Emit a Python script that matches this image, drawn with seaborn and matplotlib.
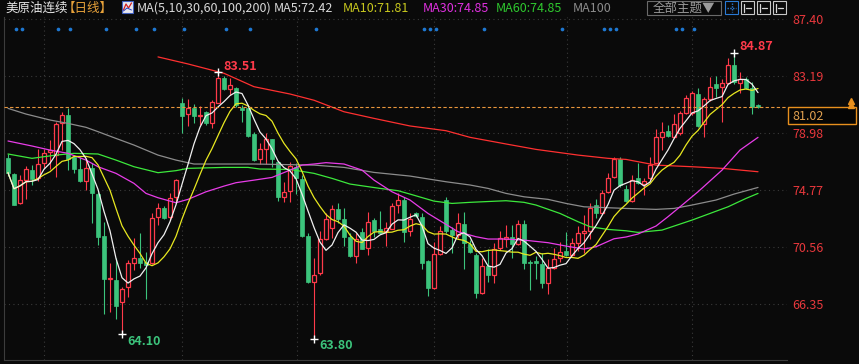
import numpy as np
import pandas as pd
import matplotlib
matplotlib.use("Agg")
import matplotlib.pyplot as plt
import seaborn as sns
from matplotlib.patches import Rectangle
from matplotlib.lines import Line2D
import matplotlib.transforms as mtransforms

# ---------------- data ----------------
OPEN = [77.10, 75.95, 73.78, 75.50, 76.24, 75.63, 76.74, 77.60, 77.35, 79.69,
        80.28, 77.18, 76.32, 75.46, 76.37, 74.47, 71.37, 68.20, 68.12, 66.52,
        67.62, 69.35, 69.72, 69.45, 69.40, 72.80, 73.41, 72.80, 74.22, 81.22,
        80.38, 80.80, 80.20, 80.55, 79.74, 81.22, 83.02, 82.23, 82.33, 80.85,
        80.80, 78.90, 77.03, 77.77, 78.51, 76.86, 74.27, 74.72, 76.49, 75.55,
        71.37, 68.00, 68.61, 71.12, 71.93, 73.34, 72.60, 71.32, 69.89, 71.66,
        70.46, 72.55, 71.86, 71.74, 71.91, 73.63, 74.03, 71.76, 73.05, 72.80,
        69.55, 67.50, 70.01, 74.03, 71.81, 71.44, 72.25, 70.78, 69.96, 67.13,
        69.15, 68.49, 70.46, 71.17, 71.27, 70.78, 72.25, 69.47, 69.55, 69.30,
        67.87, 68.98, 69.72, 70.28, 69.96, 70.88, 71.61, 71.76, 73.66, 73.04,
        74.64, 75.70, 77.03, 74.84, 73.98, 75.63, 75.19, 75.63, 76.79, 78.71,
        79.13, 78.71, 78.95, 80.48, 80.48, 81.86, 79.64, 81.47, 82.60, 82.35,
        82.70, 84.00, 82.70, 82.94, 82.28, 81.07]
HIGH = [77.43, 76.00, 75.87, 76.54, 76.61, 77.77, 77.77, 78.46, 79.82, 80.55,
        80.80, 77.35, 77.23, 77.10, 76.79, 74.64, 72.43, 69.35, 69.72, 67.62,
        69.60, 71.20, 71.56, 70.21, 73.04, 73.78, 73.60, 74.52, 75.55, 81.54,
        81.47, 81.12, 80.97, 80.63, 81.42, 83.51, 83.19, 83.02, 82.40, 81.05,
        80.90, 79.08, 78.26, 79.00, 78.55, 76.90, 75.38, 76.86, 76.74, 75.87,
        71.61, 69.72, 71.76, 73.04, 73.66, 73.78, 73.41, 71.56, 71.61, 71.93,
        73.12, 72.67, 73.22, 72.43, 73.78, 74.57, 74.27, 73.04, 73.15, 73.04,
        69.60, 70.95, 72.11, 74.27, 72.01, 73.09, 73.17, 71.07, 70.09, 69.72,
        70.38, 70.83, 71.76, 72.18, 72.18, 72.55, 72.55, 69.60, 69.89, 70.09,
        69.64, 70.46, 70.95, 71.69, 71.20, 72.11, 72.92, 73.78, 74.08, 74.77,
        76.05, 77.23, 77.23, 75.14, 75.87, 76.74, 75.63, 77.23, 79.25, 79.82,
        79.57, 80.38, 80.63, 81.79, 82.11, 82.28, 81.61, 83.14, 83.19, 82.94,
        84.50, 84.87, 83.50, 83.09, 82.77, 81.12]
LOW = [75.80, 73.65, 73.73, 74.08, 75.11, 75.46, 76.37, 76.30, 75.75, 77.72,
       76.24, 76.05, 75.38, 74.77, 72.30, 70.70, 65.65, 65.78, 65.28, 64.10,
       66.88, 68.86, 68.98, 66.71, 69.30, 72.18, 72.60, 72.55, 73.78, 78.95,
       79.50, 79.69, 79.57, 79.57, 79.32, 81.20, 82.16, 81.79, 80.92, 79.82,
       78.71, 76.93, 76.69, 76.69, 76.44, 73.98, 73.90, 73.90, 74.47, 71.30,
       67.92, 63.80, 68.49, 71.07, 71.20, 72.35, 70.63, 69.84, 69.35, 70.38,
       69.96, 71.32, 71.52, 70.63, 71.86, 73.10, 70.95, 71.37, 72.80, 68.90,
       66.93, 67.43, 69.94, 71.61, 70.09, 71.20, 68.90, 70.09, 66.76, 67.08,
       68.00, 67.92, 70.33, 70.58, 69.72, 70.70, 68.90, 67.38, 68.17, 67.50,
       67.08, 68.90, 69.47, 69.89, 69.89, 70.28, 70.09, 71.12, 72.67, 72.99,
       74.57, 75.63, 75.00, 73.90, 73.86, 75.21, 74.40, 75.50, 76.74, 77.72,
       78.71, 78.58, 78.83, 80.38, 80.31, 79.45, 78.66, 81.37, 81.61, 79.82,
       82.65, 82.60, 81.90, 82.20, 80.38, 80.85]
CLOSE = [76.05, 73.68, 75.50, 76.30, 75.55, 76.66, 77.52, 77.70, 79.64, 80.28,
         77.03, 76.32, 75.46, 76.42, 74.57, 71.32, 68.17, 68.30, 66.22, 67.45,
         69.35, 69.72, 69.35, 69.25, 72.67, 73.41, 72.67, 74.15, 75.50, 80.23,
         80.80, 80.23, 80.30, 79.74, 81.24, 83.02, 82.20, 82.53, 81.05, 80.68,
         78.76, 76.98, 77.77, 78.51, 77.03, 74.22, 74.59, 76.54, 75.63, 71.37,
         68.00, 68.49, 71.12, 72.60, 73.34, 72.60, 71.32, 69.89, 71.12, 70.43,
         72.43, 71.74, 71.56, 71.93, 73.58, 74.00, 71.69, 72.60, 72.85, 69.40,
         67.50, 70.04, 71.74, 71.76, 71.44, 72.30, 70.83, 70.21, 67.13, 69.15,
         68.49, 70.38, 71.24, 71.32, 70.78, 72.25, 69.40, 69.35, 69.40, 67.87,
         68.98, 69.64, 70.21, 69.96, 70.83, 71.61, 71.74, 73.46, 73.09, 74.57,
         75.63, 77.03, 75.14, 73.98, 75.50, 75.26, 75.46, 76.61, 78.71, 79.08,
         78.76, 79.64, 80.43, 81.54, 81.96, 79.50, 81.47, 82.40, 82.33, 82.65,
         84.00, 82.77, 82.95, 82.28, 80.92, 80.90]

MA30_X = [0, 4, 7, 10, 13, 15, 18, 21, 23, 25, 28, 30, 33, 36, 38, 41, 44, 47, 49, 51,
          53, 56, 59, 61, 64, 67, 70, 73, 75, 78, 80, 83, 86, 90, 93, 96, 98, 101, 103,
          105, 108, 110, 112, 115, 119, 122, 125]
MA30_Y = [78.39, 78.02, 77.72, 77.48, 76.98, 76.49, 76.00, 75.26, 74.52, 74.20, 73.83,
          74.08, 74.64, 75.06, 75.31, 75.50, 75.70, 76.24, 76.61, 76.69, 76.79, 76.69,
          76.24, 75.50, 74.64, 74.03, 73.04, 72.23, 71.69, 71.32, 71.15, 71.15, 71.07,
          70.88, 70.63, 70.41, 70.58, 71.17, 71.30, 71.52, 72.11, 72.80, 73.53, 74.64,
          76.24, 77.72, 78.66]
MA60_X = [0, 4, 8, 11, 15, 18, 21, 25, 28, 30, 36, 40, 42, 47, 51, 54, 57, 62, 65, 67,
          71, 74, 77, 83, 86, 88, 92, 95, 97, 100, 103, 105, 109, 114, 117, 120, 123, 125]
MA60_Y = [77.43, 77.11, 77.35, 77.48, 77.43, 76.98, 76.49, 76.05, 76.20, 76.37, 76.44,
          76.44, 76.32, 76.29, 76.00, 75.63, 75.21, 74.89, 74.72, 74.47, 73.95, 73.78,
          73.86, 73.98, 73.86, 73.66, 73.04, 72.43, 72.06, 71.86, 71.76, 71.64, 71.81,
          72.55, 73.04, 73.53, 74.15, 74.52]
MA100_X = [0, 3, 7, 10, 13, 15, 18, 21, 25, 28, 31, 36, 41, 51, 56, 61, 67, 73, 77, 80,
           83, 86, 90, 93, 96, 103, 108, 111, 114, 118, 121, 125]
MA100_Y = [80.80, 80.38, 79.94, 79.69, 79.40, 79.08, 78.58, 78.09, 77.35, 76.98, 76.69,
           76.69, 76.69, 76.61, 76.44, 76.07, 75.80, 75.38, 75.14, 74.89, 74.52, 74.27,
           74.08, 73.78, 73.53, 73.41, 73.34, 73.41, 73.66, 74.03, 74.47, 74.96]
MA200_X = [25, 30, 36, 41, 47, 51, 56, 61, 67, 73, 77, 83, 88, 95, 100, 103, 108, 114, 119, 125]
MA200_Y = [84.60, 84.08, 83.39, 82.40, 81.86, 81.40, 80.55, 80.06, 79.50, 79.15, 78.66,
           78.17, 77.77, 77.35, 77.11, 77.03, 76.61, 76.49, 76.37, 76.12]

Y_TICKS = [87.40, 83.19, 78.98, 74.77, 70.56, 66.35]
MONTH_GRID = [6, 29, 48.2, 71, 93.2, 114]
EVENT_IDX = [1, 2, 8, 10, 16, 21, 24, 29, 36, 40, 51, 69, 70, 71, 79, 92, 99, 100, 101, 111, 112, 114]
LAST_PRICE = 81.02
TITLE = "美原油连续"
PERIOD = "【日线】"
MA_TEXTS = [("MA(5,10,30,60,100,200)", "#d8d8d8", 137),
            ("MA5:72.42", "#d8d8d8", 274),
            ("MA10:71.81", "#c8c81e", 343),
            ("MA30:74.85", "#e030e0", 423),
            ("MA60:74.85", "#2ec82e", 496),
            ("MA100", "#8c8c8c", 573)]

# ---------------- style ----------------
BG = "#0a0a0a"
RED = "#ff3a4a"
GREEN = "#3cc47c"
W, H = 859, 364
sns.set_theme(style="dark", rc={"axes.facecolor": BG, "figure.facecolor": BG,
                                "savefig.facecolor": BG})
plt.rcParams["font.family"] = ["Noto Sans CJK SC", "DejaVu Sans"]

fig = plt.figure(figsize=(W / 100, H / 100), dpi=100)
L, R, T, B = 4, 787, 17, 360
ax = fig.add_axes([L / W, (H - B) / H, (R - L) / W, (B - T) / H])
ax.set_facecolor(BG)

n = len(CLOSE)
idx = np.arange(n)
ax.set_xlim(-0.667, 129.83)
ax.set_ylim(62.216, 87.548)

# grid
ax.set_yticks(Y_TICKS)
ax.set_yticklabels([f"{v:.2f}" for v in Y_TICKS])
ax.set_xticks(MONTH_GRID)
ax.set_xticklabels([])
ax.grid(True, color="#3a3a3a", linestyle=(0, (1, 3)), linewidth=0.8)
ax.yaxis.tick_right()
ax.tick_params(axis="y", length=0, pad=3.6, labelcolor="#e8383c", labelsize=9)
ax.tick_params(axis="x", length=0)
for s in ["top", "right"]:
    ax.spines[s].set_visible(False)
for s in ["left", "bottom"]:
    ax.spines[s].set_color("#3c3c3c")
    ax.spines[s].set_linewidth(0.8)

# candles
o = np.array(OPEN); c = np.array(CLOSE); h = np.array(HIGH); l = np.array(LOW)
up = c >= o
top = np.maximum(o, c); bot = np.minimum(o, c)
height = np.maximum(top - bot, 0.06)
ax.vlines(idx[up], top[up], h[up], color=RED, linewidth=0.8, zorder=2)
ax.vlines(idx[up], l[up], bot[up], color=RED, linewidth=0.8, zorder=2)
ax.vlines(idx[~up], l[~up], h[~up], color=GREEN, linewidth=0.8, zorder=2)
ax.bar(idx[up], height[up], bottom=bot[up], width=0.66, facecolor=BG,
       edgecolor=RED, linewidth=0.9, zorder=3)
ax.bar(idx[~up], height[~up], bottom=bot[~up], width=0.72, facecolor=GREEN,
       edgecolor=GREEN, linewidth=0.5, zorder=3)

# moving averages
close_s = pd.Series(CLOSE)
ma5 = close_s.rolling(5, min_periods=1).mean()
ma10 = close_s.rolling(10, min_periods=1).mean()
lines = [
    (MA200_X, MA200_Y, "#ff3030"),
    (MA100_X, MA100_Y, "#8c8c8c"),
    (MA60_X, MA60_Y, "#3ce83c"),
    (MA30_X, MA30_Y, "#e83ce8"),
    (list(idx), list(ma10), "#e8e820"),
    (list(idx), list(ma5), "#f0f0f0"),
]
for xs, ys, col in lines:
    sns.lineplot(x=xs, y=ys, ax=ax, color=col, linewidth=0.9, zorder=4,
                 estimator=None, sort=False)
ax.set_xlabel(""); ax.set_ylabel("")

# last price dashed line
ax.axhline(CLOSE[-1], color="#e8963c", linestyle=(0, (3, 2)), linewidth=0.8, zorder=5)

# event dots
trans = mtransforms.blended_transform_factory(ax.transData, ax.transAxes)
ax.scatter([e + 0.3 for e in EVENT_IDX], [0.965] * len(EVENT_IDX), transform=trans,
           s=7, color="#1e78d2", linewidths=0, zorder=6, clip_on=False)

# extreme annotations
hi1 = int(np.argmax(HIGH[:60])); hi2 = int(np.argmax(HIGH))
lo1 = int(np.argmin(LOW[:40])); lo2 = int(np.argmin(LOW))
for i, val, col, dy in [(hi1, HIGH[hi1], RED, 5), (hi2, HIGH[hi2], RED, 7),
                        (lo1, LOW[lo1], GREEN, -7), (lo2, LOW[lo2], GREEN, -7)]:
    ax.plot([i], [val], marker="+", color="white", markersize=6, mew=1, zorder=7,
            clip_on=False)
    ax.annotate(f"{val:.2f}", (i, val), xytext=(5, dy), textcoords="offset pixels",
                color=col, fontsize=9, fontweight="bold", va="center", ha="left",
                annotation_clip=False, zorder=7)

# ---------------- header & right panel ----------------
def fx(px):
    return px / W

def fy(py):
    return 1 - py / H

fig.text(fx(5), fy(8), TITLE, color="#e6e6e6", fontsize=9, va="center", ha="left")
fig.text(fx(63), fy(8), PERIOD, color="#e8a23a", fontsize=9, va="center", ha="left")
fig.add_artist(Rectangle((fx(122), fy(13)), 11 / W, 12 / H, transform=fig.transFigure,
                         facecolor="#e8e8f0", edgecolor="#4060c0", linewidth=0.8))
fig.add_artist(Line2D([fx(123.5), fx(126), fx(128.5), fx(131.5)],
                      [fy(10), fy(4), fy(8), fy(3)], transform=fig.transFigure,
                      color="#d02020", linewidth=0.9))
fig.add_artist(Line2D([fx(123.5), fx(127), fx(131.5)],
                      [fy(11), fy(8), fy(10)], transform=fig.transFigure,
                      color="#2040c0", linewidth=0.7))
for txt, col, x0 in MA_TEXTS:
    fig.text(fx(x0), fy(8), txt, color=col, fontsize=9, va="center", ha="left")

fig.add_artist(Rectangle((fx(647), fy(15)), 74 / W, 14 / H, transform=fig.transFigure,
                         facecolor="none", edgecolor="#6a6a6a", linewidth=0.8))
fig.text(fx(684), fy(8), "全部主题▼", color="#9a9a9a", fontsize=9, va="center", ha="center")

icon_x = [725, 741, 757, 773]
for k, x0 in enumerate(icon_x):
    ec = "#2a7ad5" if k == 0 else "#c8c8c8"
    fig.add_artist(Rectangle((fx(x0), fy(14)), 13 / W, 13 / H, transform=fig.transFigure,
                             facecolor="none", edgecolor=ec, linewidth=0.8))
fig.add_artist(Line2D([fx(727), fx(736)], [fy(7.5), fy(7.5)], transform=fig.transFigure,
                      color="#2a7ad5", linewidth=1, linestyle=(0, (1, 1))))
fig.add_artist(Line2D([fx(731.5), fx(731.5)], [fy(3), fy(12)], transform=fig.transFigure,
                      color="#2a7ad5", linewidth=1, linestyle=(0, (1, 1))))
for x0 in icon_x[1:]:
    fig.add_artist(Line2D([fx(x0 + 3), fx(x0 + 3)], [fy(3.5), fy(11.5)],
                          transform=fig.transFigure, color="#d8d8d8", linewidth=0.9))
    fig.add_artist(Line2D([fx(x0 + 5), fx(x0 + 10)], [fy(7.5), fy(7.5)],
                          transform=fig.transFigure, color="#d8d8d8", linewidth=0.9))

# last price box
fig.add_artist(Rectangle((fx(788), fy(124)), 68 / W, 17 / H, transform=fig.transFigure,
                         facecolor="#050505", edgecolor="#e8901e", linewidth=1))
fig.text(fx(792), fy(116), f"{LAST_PRICE:.2f}", color="#e0a050", fontsize=9,
         va="center", ha="left")
for yy in [101, 105]:
    fig.add_artist(Line2D([fx(851)], [fy(yy)], transform=fig.transFigure, marker="^",
                          markersize=4, color="#e8901e", linewidth=0))

fig.savefig("out.png", dpi=100, facecolor=BG)
